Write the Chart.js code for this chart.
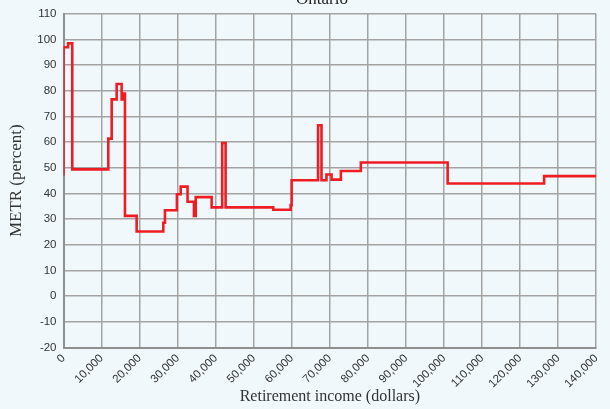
<!DOCTYPE html>
<html><head><meta charset="utf-8">
<script src="https://cdn.jsdelivr.net/npm/chart.js@4.4.0/dist/chart.umd.min.js"></script>
<style>
html,body{margin:0;padding:0;background:#f1f8fb;overflow:hidden;}
#wrap{width:610px;height:409px;position:relative;}
canvas{display:block;}
</style>
</head><body>
<div id="wrap"><canvas id="c" width="610" height="409"></canvas></div>
<script>
// Step points: METR value applies from each income until the next income
const incomes = [0, 0, 1200, 2300, 11770, 12660, 13970, 15280, 15700, 16150, 19220, 26220, 26660, 29800, 30800, 32600, 34280, 34750, 38930, 41700, 42600, 55110, 59700, 59950, 66900, 67800, 69100, 70440, 72890, 78140, 100950, 126300, 140000];
const metr    = [47, 97, 98.5, 49.4, 61.4, 76.7, 82.7, 76.7, 79, 31.3, 25.2, 28.6, 33.5, 39.7, 42.7, 36.8, 31.3, 38.6, 34.6, 59.7, 34.6, 33.7, 35.5, 45.2, 66.6, 45.2, 47.4, 45.4, 48.8, 52.1, 43.9, 46.8, 46.8];
const xTickValues = [0, 10000, 20000, 30000, 40000, 50000, 60000, 70000, 80000, 90000, 100000, 110000, 120000, 130000, 140000];
const yTickValues = [-20, -10, 0, 10, 20, 30, 40, 50, 60, 70, 80, 90, 100, 110];
const chartTitle = 'Ontario';
const xTitle = 'Retirement income (dollars)';
const yTitle = 'METR (percent)';

const points = incomes.map((x, i) => ({x: x, y: metr[i]}));

const titlePlugin = {
  id: 'topTitle',
  afterDraw(chart) {
    const ctx = chart.ctx;
    ctx.save();
    ctx.font = '17px "Liberation Serif"';
    ctx.fillStyle = '#222';
    ctx.textAlign = 'center';
    ctx.textBaseline = 'alphabetic';
    ctx.fillText(chartTitle, 322, 4);
    ctx.restore();
  }
};

const tickFont = {family: '"Liberation Sans", Arial, sans-serif', size: 11.5};
const titleFont = {family: '"Liberation Serif", serif', size: 16};

new Chart(document.getElementById('c'), {
  type: 'line',
  data: {
    datasets: [{
      data: points,
      borderColor: '#ee1d23',
      borderWidth: 2.6,
      pointRadius: 0,
      stepped: 'before',
      tension: 0,
      fill: false,
      clip: 0
    }]
  },
  options: {
    responsive: false,
    animation: false,
    devicePixelRatio: 1,
    layout: {padding: {top: 13.5, right: 13.5, left: 0, bottom: 0}},
    plugins: {legend: {display: false}, tooltip: {enabled: false}, title: {display: false}},
    scales: {
      x: {
        type: 'linear',
        min: 0, max: 140000,
        afterBuildTicks(scale) { scale.ticks = xTickValues.map(v => ({value: v})); },
        ticks: {
          font: tickFont, color: '#333', padding: 4,
          maxRotation: 45, minRotation: 45,
          callback: v => v.toLocaleString('en-US')
        },
        grid: {color: '#a3a3a3', lineWidth: 1.5, drawTicks: false},
        border: {color: '#8f8f8f', width: 2},
        title: {display: true, text: xTitle, font: titleFont, color: '#333', padding: {top: 0, bottom: 3}},
        afterFit(scale) { scale.height = 61.5; }
      },
      y: {
        min: -20, max: 110,
        afterBuildTicks(scale) { scale.ticks = yTickValues.map(v => ({value: v})); },
        ticks: {font: tickFont, color: '#333', padding: 7},
        grid: {color: '#a3a3a3', lineWidth: 1.5, drawTicks: false},
        border: {color: '#8f8f8f', width: 2},
        title: {display: true, text: yTitle, font: {family: '"Liberation Serif", serif', size: 17}, color: '#333', padding: {top: 6, bottom: 0}},
        afterFit(scale) { scale.width = 63.5; }
      }
    }
  },
  plugins: [titlePlugin]
});
</script>
</body></html>
